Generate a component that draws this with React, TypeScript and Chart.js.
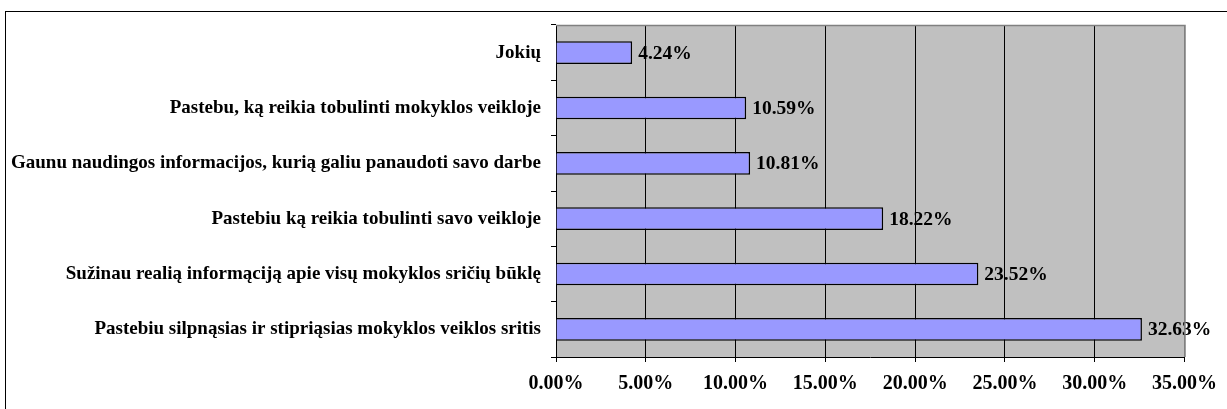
import React, { useEffect, useRef } from "react";
import { Chart, registerables } from "chart.js";

Chart.register(...registerables);

const categories = [
  "Jokių",
  "Pastebu, ką reikia tobulinti mokyklos veikloje",
  "Gaunu naudingos informacijos, kurią galiu panaudoti savo darbe",
  "Pastebiu ką reikia tobulinti savo veikloje",
  "Sužinau realią informąciją apie visų mokyklos sričių būklę",
  "Pastebiu silpnąsias ir stipriąsias mokyklos veiklos sritis",
];
const values = [4.24, 10.59, 10.81, 18.22, 23.52, 32.63];
const xMin = 0;
const xMax = 35;
const xStep = 5;

const FONT = "'Liberation Serif', 'Times New Roman', serif";

export default function App() {
  const ref = useRef<HTMLCanvasElement>(null);
  useEffect(() => {
    const canvas = ref.current;
    if (!canvas) return;
    const bgPlugin = {
      id: "bg",
      beforeDraw(chart: any) {
        const ctx = chart.ctx;
        const a = chart.chartArea;
        ctx.save();
        ctx.fillStyle = "#ffffff";
        ctx.fillRect(0, 0, chart.width, chart.height);
        ctx.strokeStyle = "#000";
        ctx.lineWidth = 1;
        ctx.strokeRect(5.5, 11.5, chart.width + 20, chart.height + 20);
        ctx.fillStyle = "#C0C0C0";
        ctx.fillRect(a.left, a.top, a.right - a.left, a.bottom - a.top);
        ctx.restore();
      },
      afterDraw(chart: any) {
        const ctx = chart.ctx;
        const a = chart.chartArea;
        ctx.save();
        ctx.strokeStyle = "#808080";
        ctx.lineWidth = 1.5;
        ctx.beginPath();
        ctx.moveTo(a.left, a.top + 0.5);
        ctx.lineTo(a.right + 0.5, a.top + 0.5);
        ctx.lineTo(a.right + 0.5, a.bottom);
        ctx.stroke();
        ctx.restore();
      },
    };
    const labelPlugin = {
      id: "vals",
      afterDatasetsDraw(chart: any) {
        const ctx = chart.ctx;
        const meta = chart.getDatasetMeta(0);
        ctx.save();
        ctx.font = `bold 19.5px ${FONT}`;
        ctx.fillStyle = "#000";
        ctx.textAlign = "left";
        ctx.textBaseline = "middle";
        meta.data.forEach((bar: any, i: number) => {
          ctx.fillText(values[i].toFixed(2) + "%", bar.x + 6, bar.y + 1);
        });
        ctx.restore();
      },
    };
    const chart = new Chart(canvas, {
      type: "bar",
      data: {
        labels: categories,
        datasets: [
          {
            data: values,
            backgroundColor: "#9999FF",
            borderColor: "#000000",
            borderWidth: 1.5,
            barPercentage: 0.41,
            categoryPercentage: 1,
          },
        ],
      },
      options: {
        indexAxis: "y",
        animation: false,
        responsive: false,
        maintainAspectRatio: false,
        layout: { padding: { left: 0, top: 25, right: 40, bottom: 0 } },
        plugins: { legend: { display: false }, tooltip: { enabled: false } },
        scales: {
          x: {
            min: xMin,
            max: xMax,
            afterFit(scale: any) {
              scale.height = 52;
            },
            ticks: {
              stepSize: xStep,
              color: "#000",
              padding: 10,
              font: { family: FONT, size: 20, weight: "bold" },
              callback: (v: any) => Number(v).toFixed(2) + "%",
              maxRotation: 0,
            },
            grid: {
              color: (c: any) => (c.tick && c.tick.value === xMax ? "#808080" : "#000"),
              tickColor: "#000",
              tickLength: 5,
              lineWidth: 1,
            },
            border: { display: true, color: "#000", width: 1 },
          },
          y: {
            afterFit(scale: any) {
              scale.width = 556;
            },
            ticks: {
              color: "#000",
              padding: 10,
              font: { family: FONT, size: 19, weight: "bold" },
              autoSkip: false,
            },
            grid: {
              drawOnChartArea: false,
              color: "#000",
              tickLength: 5,
              offset: true,
            },
            border: { display: true, color: "#000", width: 1 },
          },
        },
      },
      plugins: [bgPlugin, labelPlugin],
    } as any);
    return () => chart.destroy();
  }, []);
  return (
    <div style={{ position: "fixed", left: 0, top: 0, width: 1227, height: 409, background: "#fff" }}>
      <canvas ref={ref} width={1227} height={409} style={{ display: "block" }} />
    </div>
  );
}
